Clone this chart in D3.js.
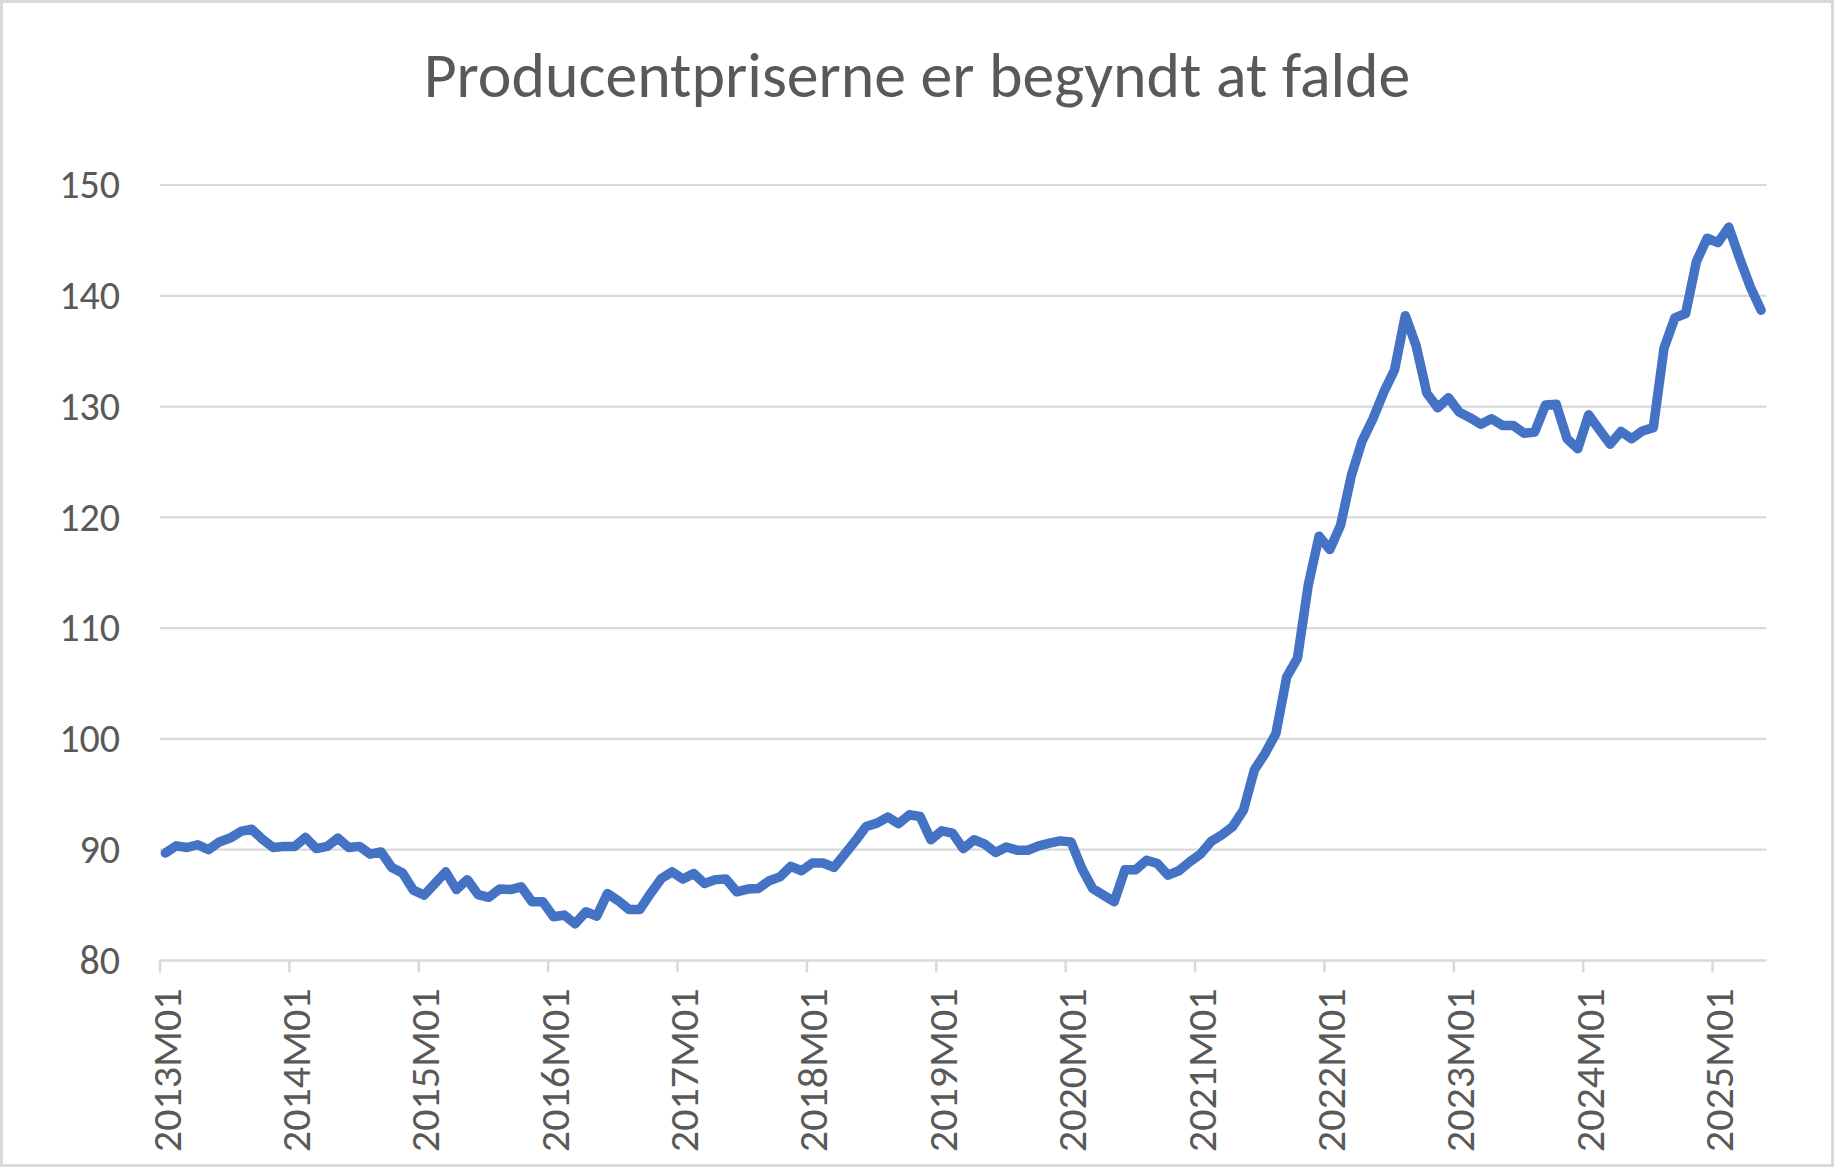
<!DOCTYPE html>
<html>
<head>
<meta charset="utf-8">
<script src="https://cdn.jsdelivr.net/npm/d3@7"></script>
<style>
  html, body { margin: 0; padding: 0; background: #ffffff; }
  svg { display: block; }
</style>
</head>
<body>
<svg id="chart" width="1834" height="1167"></svg>
<script>
// ---------- DATA ----------
const title = "Producentpriserne er begyndt at falde";
const years = [2013, 2014, 2015, 2016, 2017, 2018, 2019, 2020, 2021, 2022, 2023, 2024, 2025];
const monthCodes = ["M01","M02","M03","M04","M05","M06","M07","M08","M09","M10","M11","M12"];

const v2013 = [89.7, 90.35, 90.2, 90.45, 90.0, 90.7, 91.05, 91.65, 91.85, 90.95, 90.2, 90.3];
const v2014 = [90.3, 91.1, 90.1, 90.3, 91.05, 90.2, 90.3, 89.6, 89.8, 88.4, 87.9, 86.35];
const v2015 = [85.9, 86.95, 88.0, 86.4, 87.3, 85.95, 85.7, 86.45, 86.4, 86.65, 85.3, 85.3];
const v2016 = [83.95, 84.1, 83.3, 84.4, 84.0, 86.05, 85.4, 84.6, 84.6, 86.05, 87.4, 88.0];
const v2017 = [87.35, 87.85, 86.95, 87.3, 87.35, 86.2, 86.45, 86.5, 87.2, 87.55, 88.5, 88.1];
const v2018 = [88.8, 88.8, 88.4, 89.6, 90.8, 92.1, 92.4, 92.95, 92.35, 93.15, 93.0, 90.9];
const v2019 = [91.7, 91.5, 90.1, 90.9, 90.5, 89.75, 90.25, 89.95, 89.95, 90.35, 90.6, 90.8];
const v2020 = [90.7, 88.3, 86.5, 85.9, 85.3, 88.2, 88.2, 89.05, 88.75, 87.7, 88.1, 88.9];
const v2021 = [89.6, 90.75, 91.35, 92.1, 93.6, 97.2, 98.7, 100.5, 105.6, 107.3, 113.9, 118.3];
const v2022 = [117.1, 119.3, 123.8, 126.9, 128.9, 131.3, 133.3, 138.2, 135.5, 131.2, 129.9, 130.8];
const v2023 = [129.5, 129.0, 128.4, 128.9, 128.3, 128.3, 127.6, 127.7, 130.15, 130.2, 127.1, 126.2];
const v2024 = [129.25, 127.9, 126.6, 127.75, 127.1, 127.8, 128.1, 135.3, 138.0, 138.4, 143.1, 145.2];
const v2025 = [144.8, 146.2, 143.4, 140.8, 138.7];

const seriesByYear = [v2013, v2014, v2015, v2016, v2017, v2018, v2019, v2020, v2021, v2022, v2023, v2024, v2025];
const xTickLabels = ["2013M01","2014M01","2015M01","2016M01","2017M01","2018M01","2019M01",
                     "2020M01","2021M01","2022M01","2023M01","2024M01","2025M01"];
const yTicks = [80, 90, 100, 110, 120, 130, 140, 150];

// build table
const data = [];
seriesByYear.forEach((arr, yi) => {
  arr.forEach((v, mi) => data.push({ cat: years[yi] + monthCodes[mi], value: v }));
});
const categories = data.map(d => d.cat);

// ---------- LAYOUT ----------
const W = 1834, H = 1167;
const plot = { left: 160, right: 1766.5, top: 185, bottom: 960.5 };
const textColor = "#595959";
const gridColor = "#d9d9d9";
const lineColor = "#4472C4";
const fontFamily = "Carlito, Calibri, 'Open Sans', sans-serif";

const svg = d3.select("#chart");

svg.append("rect")
  .attr("x", 1.5).attr("y", 1.5)
  .attr("width", W - 3).attr("height", H - 3)
  .attr("fill", "#ffffff")
  .attr("stroke", gridColor)
  .attr("stroke-width", 3);

const x = d3.scaleBand().domain(categories).range([plot.left, plot.right]).paddingInner(0).paddingOuter(0);
const bw = x.bandwidth();
const y = d3.scaleLinear().domain([80, 150]).range([plot.bottom, plot.top]);

// gridlines
svg.append("g")
  .selectAll("line")
  .data(yTicks.filter(t => t > 80))
  .join("line")
  .attr("x1", plot.left).attr("x2", plot.right)
  .attr("y1", d => y(d)).attr("y2", d => y(d))
  .attr("stroke", gridColor)
  .attr("stroke-width", 2.2);

// y axis labels
const yAxis = d3.axisLeft(y).tickValues(yTicks).tickSize(0).tickPadding(40).tickFormat(d3.format("d"));
const yg = svg.append("g").attr("transform", `translate(${plot.left},0)`).call(yAxis);
yg.select(".domain").remove();
yg.selectAll("text")
  .attr("fill", textColor)
  .style("font-family", fontFamily)
  .style("font-size", "40px");

// x axis line
svg.append("line")
  .attr("x1", plot.left).attr("x2", plot.right)
  .attr("y1", y(80)).attr("y2", y(80))
  .attr("stroke", gridColor)
  .attr("stroke-width", 2.5);

// x tick marks (at category boundaries)
svg.append("g")
  .selectAll("line")
  .data(xTickLabels)
  .join("line")
  .attr("x1", d => x(d)).attr("x2", d => x(d))
  .attr("y1", y(80)).attr("y2", y(80) + 12)
  .attr("stroke", gridColor)
  .attr("stroke-width", 2.5);

// x labels (rotated, centered on category)
svg.append("g")
  .selectAll("text")
  .data(xTickLabels)
  .join("text")
  .attr("transform", d => `translate(${x(d) + bw / 2},${y(80) + 28}) rotate(-90)`)
  .attr("text-anchor", "end")
  .attr("dy", "0.36em")
  .attr("fill", textColor)
  .style("font-family", fontFamily)
  .style("font-size", "42px")
  .text(d => d);

// line
const line = d3.line()
  .x(d => x(d.cat) + bw / 2)
  .y(d => y(d.value));

svg.append("path")
  .datum(data)
  .attr("d", line)
  .attr("fill", "none")
  .attr("stroke", lineColor)
  .attr("stroke-width", 9.5)
  .attr("stroke-linejoin", "round")
  .attr("stroke-linecap", "round");

// title
const t = svg.append("text")
  .attr("x", W / 2)
  .attr("y", 97)
  .attr("text-anchor", "middle")
  .attr("fill", textColor)
  .style("font-family", fontFamily)
  .style("font-size", "60px")
  .text(title);
const tw = t.node().getComputedTextLength();
t.style("font-size", (60 * 987 / tw).toFixed(1) + "px");
</script>
</body>
</html>
